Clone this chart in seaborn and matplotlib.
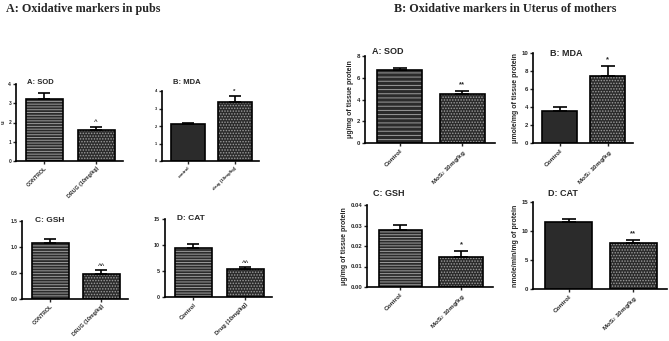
import matplotlib
matplotlib.use("Agg")
import matplotlib.pyplot as plt
import numpy as np
import pandas as pd
import seaborn as sns
from matplotlib.colors import to_rgba

# ---- data ----
pub_sod_labels = ["CONTROL", "DRUG (10mg/kg)"]
pub_sod_mean = [3.2, 1.6]
pub_sod_sem = [0.35, 0.18]

pub_mda_labels = ["control", "drug (10mg/kg)"]
pub_mda_mean = [2.1, 3.35]
pub_mda_sem = [0.1, 0.35]

pub_gsh_labels = ["CONTROL", "DRUG (10mg/kg)"]
pub_gsh_mean = [1.08, 0.48]
pub_gsh_sem = [0.07, 0.08]

pub_cat_labels = ["Control", "Drug (10mg/kg)"]
pub_cat_mean = [9.5, 5.3]
pub_cat_sem = [0.6, 0.4]

ut_labels = ["Control", "MoS$_2$ 10mg/kg"]
ut_sod_mean = [6.7, 4.55]
ut_sod_sem = [0.2, 0.25]
ut_mda_mean = [3.6, 7.5]
ut_mda_sem = [0.45, 1.1]
ut_gsh_mean = [0.028, 0.0145]
ut_gsh_sem = [0.0022, 0.003]
ut_cat_mean = [11.5, 8.0]
ut_cat_sem = [0.5, 0.5]

sns.set_style("ticks")
plt.rcParams["font.family"] = ["Liberation Sans", "DejaVu Sans"]
plt.rcParams["hatch.linewidth"] = 0.7

W, H = 669, 341
fig = plt.figure(figsize=(W / 100, H / 100), dpi=100)

DARK = "#2b2b2b"
HATCH = "#9c9c9c"


def px_rect(x0, x1, ytop, ybot):
    return [x0 / W, 1 - ybot / H, (x1 - x0) / W, (ybot - ytop) / H]


def panel(rect, labels, mean, sem, yticks, yfmt, title, title_xy, title_fs,
          stars, ylabel, hatches, tick_fs, small):
    ax = fig.add_axes(rect)
    df = pd.DataFrame({"group": labels, "value": mean})
    sns.barplot(data=df, x="group", y="value", ax=ax, color=DARK,
                width=0.72, edgecolor="black", linewidth=1.2, errorbar=None)
    for p, h in zip(ax.patches, hatches):
        p.set_facecolor(DARK)
        p.set_hatch(h)
        if hasattr(p, "set_hatchcolor"):
            p.set_hatchcolor(HATCH)
        else:
            p._hatch_color = to_rgba(HATCH)
    xs = np.arange(len(labels))
    ax.errorbar(xs, mean, yerr=[np.zeros(len(sem)), sem], fmt="none",
                ecolor="black", elinewidth=1.2, capsize=5 if not small else 4,
                capthick=1.2)
    top = yticks[-1]
    for x, m, s, st in zip(xs, mean, sem, stars):
        if st:
            ax.text(x, m + s + top * 0.03, st, ha="center", va="bottom",
                    fontsize=5.5 if not small else 4.5, fontweight="bold")
    ax.set_xlim(-0.55, 1.52)
    ax.set_ylim(0, top)
    ax.set_yticks(yticks)
    ax.set_yticklabels([yfmt.format(v) for v in yticks], fontsize=tick_fs - 0.3,
                       fontweight="bold")
    ax.set_xticks(xs)
    ax.set_xticklabels(labels, rotation=45, ha="right", rotation_mode="anchor",
                       fontsize=tick_fs, fontweight="bold")
    ax.set_xlabel("")
    ax.set_ylabel(ylabel, fontsize=tick_fs + 0.4, fontweight="bold", labelpad=2)
    ax.tick_params(length=2, width=1, pad=1.5)
    sns.despine(ax=ax)
    for s in ("left", "bottom"):
        ax.spines[s].set_linewidth(1.2)
        ax.spines[s].set_color("black")
    fig.text(title_xy[0] / W, 1 - title_xy[1] / H, title, fontsize=title_fs,
             fontweight="bold", ha="left", va="center")
    return ax


# ---- pubs ----
panel(px_rect(16, 123, 84, 161), pub_sod_labels, pub_sod_mean, pub_sod_sem,
      [0, 1, 2, 3, 4], "{:g}", "A: SOD", (27, 83), 5.5, ["", "^"], "u",
      ["------", "......"], 3.8, True)
panel(px_rect(162, 259, 91, 161), pub_mda_labels, pub_mda_mean, pub_mda_sem,
      [0, 1, 2, 3, 4], "{:g}", "B: MDA", (173, 82), 5.5, ["", "*"], "",
      ["", "......"], 3.2, True)
panel(px_rect(22, 128, 221, 299), pub_gsh_labels, pub_gsh_mean, pub_gsh_sem,
      [0, 0.5, 1.0, 1.5], "{:.1f}", "C: GSH", (35, 220), 6, ["", "^^"], "",
      ["------", "......"], 3.8, True)
panel(px_rect(165, 272, 219, 297), pub_cat_labels, pub_cat_mean, pub_cat_sem,
      [0, 5, 10, 15], "{:g}", "D: CAT", (177, 219), 6, ["", "^^"], "",
      ["------", "......"], 4.2, True)

# ---- uterus of mothers ----
panel(px_rect(365, 495, 56, 143), ut_labels, ut_sod_mean, ut_sod_sem,
      [0, 2, 4, 6, 8], "{:g}", "A: SOD", (372, 52), 6.5, ["", "**"],
      "\u03bcg/mg of tissue protein", ["----", "......"], 4.6, False)
panel(px_rect(533, 633, 53, 143), ut_labels, ut_mda_mean, ut_mda_sem,
      [0, 2, 4, 6, 8, 10], "{:g}", "B: MDA", (550, 53), 6.5, ["", "*"],
      "\u03bcmole/mg of tissue protein", ["", "......"], 4.6, False)
panel(px_rect(367, 493, 205, 287), ut_labels, ut_gsh_mean, ut_gsh_sem,
      [0, 0.01, 0.02, 0.03, 0.04], "{:.2f}", "C: GSH", (373, 193), 6.5,
      ["", "*"], "\u03bcg/mg of tissue protein", ["------", "......"], 4.6, False)
panel(px_rect(533, 667, 202, 289), ut_labels, ut_cat_mean, ut_cat_sem,
      [0, 5, 10, 15], "{:g}", "D: CAT", (548, 193), 6.5, ["", "**"],
      "nmole/min/mg of protein", ["", "......"], 4.6, False)

# ---- headers ----
fig.text(6 / W, 1 - 9 / H, "A: Oxidative markers in pubs", fontsize=8.7,
         fontweight="bold", family=["Liberation Serif", "DejaVu Serif"],
         ha="left", va="center")
fig.text(505 / W, 1 - 9 / H, "B: Oxidative markers in Uterus of mothers",
         fontsize=8.7, fontweight="bold",
         family=["Liberation Serif", "DejaVu Serif"], ha="center", va="center")

fig.savefig("out.png", dpi=100, facecolor="white")
